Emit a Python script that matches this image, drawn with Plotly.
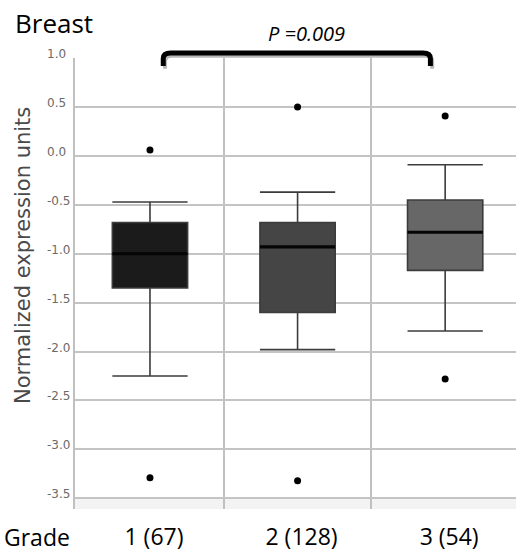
import plotly.graph_objects as go

# ---- data ----
categories = ["1 (67)", "2 (128)", "3 (54)"]
upper_whisker = [-0.47, -0.37, -0.09]
q3 = [-0.68, -0.68, -0.45]
median = [-1.00, -0.93, -0.78]
q1 = [-1.35, -1.60, -1.17]
lower_whisker = [-2.25, -1.98, -1.79]
outliers = [[0.06, -3.29], [0.50, -3.32], [0.41, -2.28]]
box_colors = ["#1b1b1b", "#454545", "#676767"]
y_ticks = [1.0, 0.5, 0.0, -0.5, -1.0, -1.5, -2.0, -2.5, -3.0, -3.5]
p_label = "P =0.009"
bracket_x = [0.09, 1.9]

box_w = 0.51
xpos = list(range(len(categories)))

fig = go.Figure()
for i, c in enumerate(categories):
    fig.add_trace(go.Box(
        x=[xpos[i]], q1=[q1[i]], median=[median[i]], q3=[q3[i]],
        lowerfence=[lower_whisker[i]], upperfence=[upper_whisker[i]],
        fillcolor=box_colors[i], line=dict(color="#3c3c3c", width=1.6),
        width=box_w, whiskerwidth=1, boxpoints=False, showlegend=False,
        hoverinfo="skip"))
    # thicker black median line
    fig.add_trace(go.Scatter(
        x=[xpos[i] - box_w / 2, xpos[i] + box_w / 2], y=[median[i], median[i]],
        mode="lines", line=dict(color="#050505", width=3.2), showlegend=False,
        hoverinfo="skip"))
    fig.add_trace(go.Scatter(
        x=[xpos[i]] * len(outliers[i]), y=outliers[i], mode="markers",
        marker=dict(color="black", size=7), showlegend=False, hoverinfo="skip"))

# light band at the bottom of the plot
fig.add_shape(type="rect", xref="paper", yref="y", x0=0, x1=1, y0=-3.61, y1=-3.5,
              fillcolor="#f3f3f3", line=dict(width=0), layer="below")

# significance bracket (paper y so it can go above the plot)
x0, x1 = bracket_x
yt, yb, r, rx = 1.011, 0.982, 0.012, 0.05
def bracket_path(dx, dy):
    return (f"M {x0+dx},{yb+dy} L {x0+dx},{yt-r+dy} Q {x0+dx},{yt+dy} {x0+rx+dx},{yt+dy} "
            f"L {x1-rx+dx},{yt+dy} Q {x1+dx},{yt+dy} {x1+dx},{yt-r+dy} L {x1+dx},{yb+dy}")
fig.add_shape(type="path", xref="x", yref="paper", path=bracket_path(0.012, -0.006),
              line=dict(color="#b8b8b8", width=4))
fig.add_shape(type="path", xref="x", yref="paper", path=bracket_path(0, 0),
              line=dict(color="black", width=5))

fig.add_annotation(x=1.06, xref="x", y=1.055, yref="paper", text="<i>" + p_label + "</i>",
                   showarrow=False, font=dict(family="Open Sans", size=20, color="black"),
                   xanchor="center", yanchor="middle")
fig.add_annotation(x=-0.14, xref="paper", y=1.078, yref="paper", text="Breast",
                   showarrow=False, font=dict(family="Open Sans", size=26, color="black"),
                   xanchor="left", yanchor="middle")
fig.add_annotation(x=-0.166, xref="paper", y=-0.062, yref="paper", text="Grade",
                   showarrow=False, font=dict(family="Open Sans", size=23, color="black"),
                   xanchor="left", yanchor="middle")
fig.add_annotation(x=-0.118, xref="paper", y=0.563, yref="paper",
                   text="Normalized expression units", textangle=-90,
                   showarrow=False, font=dict(family="DejaVu Sans", size=21, color="#4a4a4a"),
                   xanchor="center", yanchor="middle")

# y tick labels: left-aligned, sitting just above each gridline
for v in y_ticks:
    fig.add_annotation(x=-0.068, xref="paper", y=v, yref="y", text=f"{v:.1f}",
                       showarrow=False, xanchor="left", yanchor="middle", yshift=4,
                       font=dict(family="DejaVu Sans", size=12, color="#6a6a6a"))

fig.update_layout(
    width=516, height=554,
    margin=dict(l=75, r=0, t=58, b=45),
    paper_bgcolor="white", plot_bgcolor="white",
    xaxis=dict(range=[-0.508, 2.48], tickvals=xpos, ticktext=categories,
               showgrid=False, zeroline=False, ticks="", showline=False,
               tickfont=dict(family="Open Sans", size=23, color="black"),
               ticklabelstandoff=12, ticklabelshift=4,
               minor=dict(tickvals=[p + 0.5 for p in xpos[:-1]], showgrid=True,
                          gridcolor="#c0c0c0", gridwidth=1.5, ticks="")),
    yaxis=dict(range=[-3.61, 1.002], tickvals=y_ticks, showticklabels=False,
               showgrid=True, gridcolor="#c4c4c4", gridwidth=1.5, zeroline=False,
               showline=True, linecolor="#c0c0c0", linewidth=1.5, ticks=""),
)

fig.write_html("out.html", config={"displayModeBar": False},
               post_script="document.body.style.margin='0';")
